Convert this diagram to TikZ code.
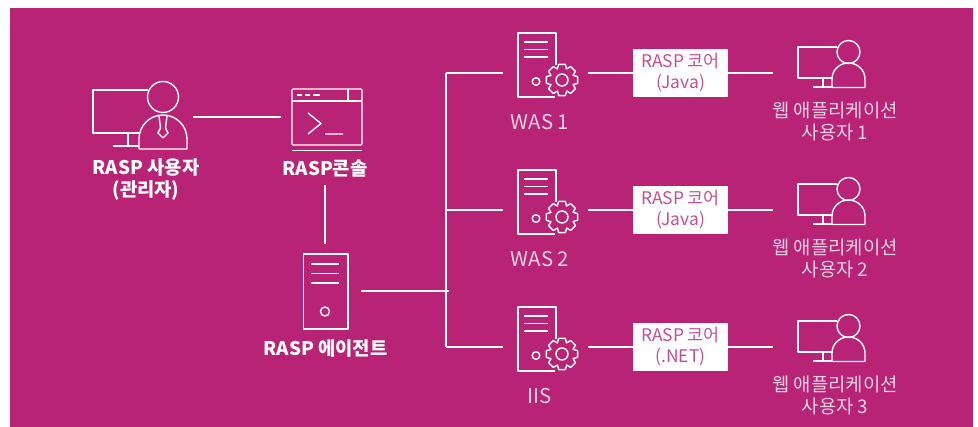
\documentclass[tikz,border=0pt]{standalone}
\usepackage{fontspec}
\setmainfont{Noto Sans CJK KR}
\usetikzlibrary{calc}
\definecolor{bgc}{HTML}{B92375}
\definecolor{softw}{HTML}{F0D2E3}
\tikzset{
  x=1pt,y=-1pt,
  ln/.style={draw=white,line width=1.4pt,line join=round},
  conn/.style={draw=white,line width=2pt},
  hub/.style={inner sep=0pt,outer sep=0pt},
  boldlabel/.style={text=white,font=\fontsize{18.8}{22}\selectfont\bfseries,align=center,inner sep=0pt},
  softlabel/.style={text=softw,font=\fontsize{18.8}{22}\selectfont,align=center,inner sep=0pt},
  wasname/.style={text=softw,font=\fontsize{20.4}{22}\selectfont,align=center,inner sep=0pt},
  corebox/.style={fill=white,text=bgc!80!white,minimum width=95pt,minimum height=48pt,inner sep=0pt,outer sep=0pt,
    font=\fontsize{17.4}{21}\selectfont,align=center}
}
\newcommand{\wasicon}[2]{%
  \begin{scope}[shift={(#1,#2)}]
    \draw[ln] (556,65) -- (556,33) -- (518,33) -- (518,97) -- (555,97);
    \draw[ln] (524,42) -- (548,42) (524,49.5) -- (548,49.5) (524,57) -- (548,57);
    \draw[ln] (536,81.5) circle (3.8);
    \draw[ln] (562,80) circle (6);
    \foreach \a in {0,45,...,315}{
      \draw[ln] ($(562,80)+(\a-12:16)$) -- ($(562,80)+(\a+12:16)$)
        -- ($(562,80)+(\a+22:12)$) -- ($(562,80)+(\a+33:16)$);
    }
  \end{scope}}
\newcommand{\webicon}[2]{%
  \begin{scope}[shift={(#1,#2)}]
    \draw[ln] (837,47) -- (798,47) -- (798,78) -- (832,78);
    \draw[ln] (823,78) -- (823,87) (813,87) -- (832,87);
    \draw[ln] (848.5,52) circle (11.5);
    \draw[ln] (832,87.5) -- (865,87.5) -- (865,79) arc[start angle=0,end angle=-180,x radius=16.5,y radius=16] -- cycle;
  \end{scope}}
\begin{document}
\begin{tikzpicture}
\useasboundingbox (0,0) rectangle (978,427);
\fill[bgc] (10,8) rectangle (973,427);

% icon hubs (invisible), spanning the gap up to each connector's end
\node[hub,minimum width=100pt,minimum height=60pt] (user) at (143,117) {};
\node[hub,minimum width=88pt,minimum height=60pt] (console) at (325,117) {};
\node[hub,minimum width=72pt,minimum height=94pt] (agent) at (325,291) {};
\coordinate (busjoin) at (449,291);
\coordinate (bustop) at (446,73);
\coordinate (busbot) at (446,347);
\coordinate (busmid) at (446,210);
\foreach \n/\y in {1/73,2/210,3/347}{
  \node[hub,minimum width=85pt,minimum height=50pt] (was\n) at (545.5,\y) {};
  \node[hub,minimum width=130pt,minimum height=50pt] (web\n) at (838,\y) {};
}

% user icon
\draw[ln] (148,90) -- (93,90) -- (93,133) -- (139,133);
\draw[ln] (128,133) -- (128,146) (113,146) -- (139,146);
\draw[ln] (163,97) circle (15.5);
\draw[ln] (139,149) -- (187,149) -- (187,139) arc[start angle=0,end angle=-180,x radius=24,y radius=24] -- cycle;
\draw[ln] (159,116) -- (160.5,128) -- (158,133) -- (163,138) -- (168,133) -- (165.5,128) -- (167,116);

% console icon
\draw[ln,rounded corners=1pt] (292,89) rectangle (362,145);
\draw[ln] (292,101) -- (362,101) (348,89) -- (348,101);
\draw[ln] (297,95) -- (302,95) (305,95) -- (310,95) (313,95) -- (320,95);
\draw[ln] (308,113) -- (321,123.5) -- (308,134) (325,134) -- (343,134);
\draw[ln] (292,150.5) -- (362,150.5);

% agent icon
\draw[ln] (303.5,254) rectangle (348,329);
\draw[ln] (311,264) -- (339,264) (311,273.5) -- (339,273.5) (311,283) -- (339,283);
\draw[ln] (325,311.5) circle (4.5);

% connectors
\draw[conn] (user) -- (console);
\node[boldlabel,minimum height=32pt] (consolelabel) at (325,169) {RASP콘솔};
\draw[conn] (consolelabel.south) -- (agent.north);
\draw[conn] (agent.east) -- (busjoin);
\draw[conn] (bustop) -- (busbot);
\draw[conn] (bustop) -- (was1.west);
\draw[conn] (busmid) -- (was2.west);
\draw[conn] (busbot) -- (was3.west);

% right rows
\foreach \n/\y/\lab/\cap/\wl in {1/0/Java/WAS 1/1, 2/137/Java/WAS 2/2, 3/274/.NET/IIS/3}{
  \wasicon{0}{\y}
  \webicon{0}{\y}
  \node[corebox] (core\n) at (680.5,73+\y) {\raisebox{-1pt}{RASP 코어}\\\raisebox{-1pt}{(\lab)}};
  \draw[conn] (was\n.east) -- (core\n.west);
  \draw[conn] (core\n.east) -- (web\n.west);
  \node[wasname] (waslab\n) at (540,122+\y) {\cap};
  \node[softlabel] (weblab\n) at (835,121.5+\y) {웹 애플리케이션\\사용자 \wl};
}

\node[boldlabel] (userlabel) at (146,180) {RASP 사용자\\(관리자)};
\node[boldlabel] (agentlabel) at (325.5,348) {RASP 에이전트};
\end{tikzpicture}
\end{document}
